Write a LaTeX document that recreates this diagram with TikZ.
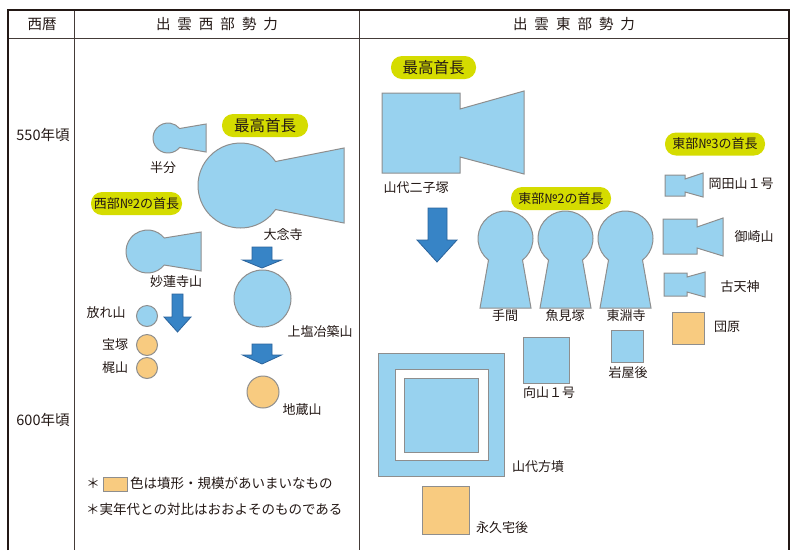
\documentclass[tikz,border=0pt]{standalone}
\usepackage{fontspec}
\setmainfont{Noto Sans CJK JP}
\definecolor{mblue}{HTML}{98D2EF}
\definecolor{morange}{HTML}{F8CB80}
\definecolor{mline}{HTML}{8E8E8E}
\definecolor{aback}{HTML}{3784C6}
\definecolor{aline}{HTML}{2B639B}
\definecolor{lime}{HTML}{D5DC00}
\definecolor{ink}{HTML}{231815}
\begin{document}
\begin{tikzpicture}[x=1pt,y=-1pt,
  mound/.style={fill=mblue,draw=mline,line width=1pt},
  moundo/.style={fill=morange,draw=mline,line width=1pt},
  barrow/.style={fill=aback,draw=aline,line width=0.8pt,line join=miter},
  badge/.style={fill=lime,rounded corners=11pt,minimum height=23pt,inner sep=0pt,text=ink,font=\fontsize{13}{15}\selectfont},
  lbl/.style={font=\fontsize{13}{15}\selectfont,text=ink,inner sep=0pt},
  head/.style={font=\fontsize{14.5}{16}\selectfont,text=ink,inner sep=0pt},
  legend/.style={font=\fontsize{13.5}{15}\selectfont,text=ink,inner sep=0pt},
  frame/.style={draw=ink,line width=2pt},
  rule/.style={draw=ink!85,line width=1pt}]
\useasboundingbox (0,0) rectangle (797,550);

% table
\draw[frame] (8,550) -- (8,10) -- (789,10) -- (789,550);
\draw[rule] (9,38) -- (788,38);
\draw[rule] (74,11) -- (74,550);
\draw[rule] (359,11) -- (359,550);

\node[head] (hyear) at (42,24) {西暦};
\node[head] (hwest) at (217,24) {出\hspace{7pt}雲\hspace{7pt}西\hspace{7pt}部\hspace{7pt}勢\hspace{7pt}力};
\node[head] (heast) at (574,24) {出\hspace{7pt}雲\hspace{7pt}東\hspace{7pt}部\hspace{7pt}勢\hspace{7pt}力};
\node[head] (y550) at (43,135) {550年頃};
\node[head] (y600) at (43,420) {600年頃};

% ---------- west ----------
\draw[mound] (168,138) ++(39.3:15) arc[start angle=39.3,end angle=320.7,radius=15] -- (206,124) -- (206,152) -- cycle;
\node[lbl] (hanbun) at (163,168) {半分};

\node[badge,minimum width=86pt,font=\fontsize{15.5}{17}\selectfont] (bw1) at (265,125.5) {最高首長};
\draw[mound] (240.5,185.5) ++(34.4:42.5) arc[start angle=34.4,end angle=325.6,radius=42.5] -- (344,148) -- (344,223) -- cycle;
\node[lbl] (dainenji) at (283,235) {大念寺};

\node[badge,minimum width=91pt] (bw2) at (136.5,203.5) {西部№2の首長};
\draw[mound] (147.5,251.5) ++(38.9:21.5) arc[start angle=38.9,end angle=321.1,radius=21.5] -- (201,232) -- (201,271) -- cycle;
\node[lbl] (myorenji) at (176,282) {妙蓮寺山};

\draw[barrow] (172,294) -- (183,294) -- (183,317) -- (191,317) -- (177.5,332) -- (164,317) -- (172,317) -- cycle;

\draw[mound] (147,316) circle[radius=10.5];
\node[lbl] (hanare) at (106,313) {放れ山};
\draw[moundo] (147,345) circle[radius=10.5];
\node[lbl] (takara) at (115,345) {宝塚};
\draw[moundo] (147,368) circle[radius=10.5];
\node[lbl] (kajiyama) at (115,368) {梶山};

\draw[barrow] (252,247) -- (272,247) -- (272,260) -- (281.5,260) -- (262,268) -- (242.5,260) -- (252,260) -- cycle;
\draw[mound] (262.5,298.5) circle[radius=28.5];
\node[lbl] (kamien) at (320,332) {上塩冶築山};
\draw[barrow] (252,344) -- (272,344) -- (272,355) -- (281.5,355) -- (262,364) -- (242.5,355) -- (252,355) -- cycle;
\draw[moundo] (263,392) circle[radius=16];
\node[lbl] (jizo) at (302,410) {地蔵山};

% legend
\node[legend] (ast1) at (93,483) {＊};
\draw[moundo,line width=0.8pt] (103,477) rectangle (127,491);
\node[legend,anchor=west] (leg1) at (130,483) {色は墳形・規模があいまいなもの};
\node[legend,anchor=west] (leg2) at (86,509) {＊実年代との対比はおおよそのものである};

% ---------- east ----------
\node[badge,minimum width=85pt,font=\fontsize{15.5}{17}\selectfont] (be1) at (433.5,67.5) {最高首長};
\draw[mound] (382,93) -- (460,93) -- (460,109) -- (524,91) -- (524,174) -- (460,157) -- (460,173) -- (382,173) -- cycle;
\node[lbl] (futago) at (416,188) {山代二子塚};
\draw[barrow] (428,208) -- (447,208) -- (447,240) -- (457,240) -- (437,262) -- (417,240) -- (428,240) -- cycle;

\node[badge,minimum width=100pt] (be2) at (561,198.5) {東部№2の首長};
\foreach \cx in {505.5,565.5,625.5}
  \draw[mound] (\cx,238.5) ++(128.2:27.5) arc[start angle=128.2,end angle=411.8,radius=27.5] -- (\cx+25.5,308) -- (\cx-25.5,308) -- cycle;
\node[lbl] (tema) at (505,316) {手間};
\node[lbl] (uomi) at (565,316) {魚見塚};
\node[lbl] (toenji) at (626,316) {東淵寺};

\draw[mound] (523,337) rectangle (569,383);
\node[lbl] (mukai) at (549,393) {向山１号};
\draw[mound] (611,330) rectangle (643,362);
\node[lbl] (iwaya) at (628,373) {岩屋後};
\draw[moundo] (672,312) rectangle (704,344);
\node[lbl] (danbara) at (727,327) {団原};

\node[badge,minimum width=100pt] (be3) at (715,144) {東部№3の首長};
\draw[mound] (665,175) -- (685,175) -- (685,179) -- (703,173) -- (703,197) -- (685,192) -- (685,196) -- (665,196) -- cycle;
\node[lbl] (okada) at (741,184) {岡田山１号};
\draw[mound] (663,219) -- (697,219) -- (697,227) -- (723,218) -- (723,256) -- (697,248) -- (697,254) -- (663,254) -- cycle;
\node[lbl] (misaki) at (754,237) {御崎山};
\draw[mound] (664,273) -- (687,273) -- (687,277) -- (705,272) -- (705,297) -- (687,292) -- (687,296) -- (664,296) -- cycle;
\node[lbl] (koten) at (740,287) {古天神};

\draw[mound] (378,353) rectangle (504,476);
\draw[fill=white,draw=mline,line width=1pt] (395,369) rectangle (488,460);
\draw[mound] (404,378) rectangle (478,452);
\node[lbl] (hofun) at (538,467) {山代方墳};
\draw[moundo] (422,486) rectangle (469,534);
\node[lbl] (eikyu) at (502,528) {永久宅後};
\end{tikzpicture}
\end{document}
